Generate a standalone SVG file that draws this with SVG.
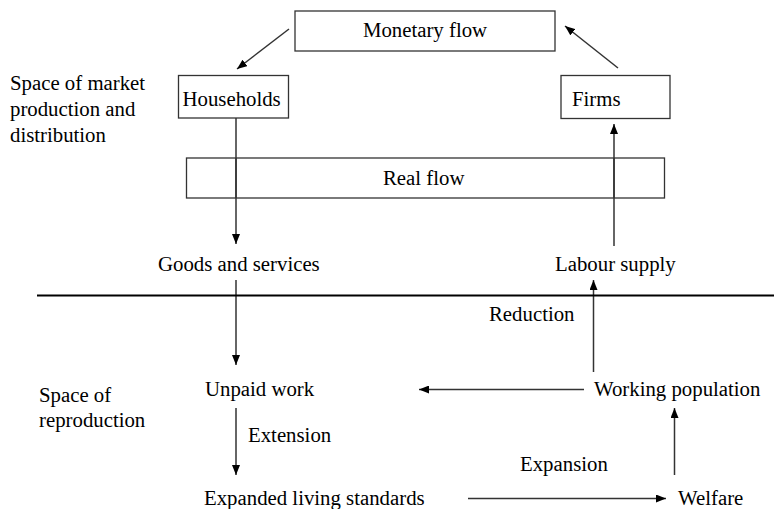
<svg xmlns="http://www.w3.org/2000/svg" width="774" height="509" viewBox="0 0 774 509">
<style>
text{font-family:'Liberation Serif','DejaVu Serif','Times New Roman',serif;font-size:20.8px;fill:#000}
.box{fill:#fff;stroke:#333;stroke-width:1.3}
.c{stroke:#333;stroke-width:1.5;fill:none}
</style>
<defs>
<marker id="ah" viewBox="0 0 10 8" refX="10" refY="4" markerWidth="10" markerHeight="8" markerUnits="userSpaceOnUse" orient="auto">
<path d="M0,0 L10,4 L0,8 Z" fill="#000"/>
</marker>
</defs>
<g id="labels">
<text x="10" y="90">Space of market</text>
<text x="10" y="116">production and</text>
<text x="10" y="142">distribution</text>
<text x="39" y="402">Space of</text>
<text x="39" y="427">reproduction</text>
</g>
<g id="connectors">
<line class="c" x1="236" y1="118" x2="236" y2="244" marker-end="url(#ah)"/>
<line class="c" x1="614" y1="246" x2="614" y2="124" marker-end="url(#ah)"/>
<line class="c" x1="289" y1="29" x2="237" y2="69" marker-end="url(#ah)"/>
<line class="c" x1="618" y1="68" x2="565" y2="26" marker-end="url(#ah)"/>
<line class="c" x1="236" y1="280" x2="236" y2="365" marker-end="url(#ah)"/>
<line class="c" x1="593.5" y1="372" x2="593.5" y2="280" marker-end="url(#ah)"/>
<line class="c" x1="584" y1="389.5" x2="419" y2="389.5" marker-end="url(#ah)"/>
<line class="c" x1="236" y1="408" x2="236" y2="475" marker-end="url(#ah)"/>
<line class="c" x1="468" y1="498.5" x2="666" y2="498.5" marker-end="url(#ah)"/>
<line class="c" x1="674.5" y1="475" x2="674.5" y2="408" marker-end="url(#ah)"/>
<line x1="37" y1="295.5" x2="774" y2="295.5" stroke="#000" stroke-width="2"/>
<text x="489" y="321">Reduction</text>
<text x="248" y="442">Extension</text>
<text x="520" y="471">Expansion</text>
</g>
<g id="monetary">
<rect class="box" x="295" y="11" width="260" height="40"/>
<text x="425" y="37" text-anchor="middle">Monetary flow</text>
</g>
<g id="households">
<rect class="box" x="178.5" y="75.5" width="110" height="42.5"/>
<text x="182.5" y="105.5">Households</text>
</g>
<g id="firms">
<rect class="box" x="561" y="75.5" width="109" height="43"/>
<text x="572" y="105.5">Firms</text>
</g>
<g id="realflow">
<rect class="box" x="186.5" y="158" width="478" height="40" fill-opacity="0"/>
<line class="c" x1="236" y1="158" x2="236" y2="198"/>
<line class="c" x1="614" y1="158" x2="614" y2="198"/>
<text x="383" y="184.5">Real flow</text>
</g>
<g id="goods"><text x="158" y="271">Goods and services</text></g>
<g id="labour"><text x="555" y="271">Labour supply</text></g>
<g id="unpaid"><text x="205" y="396">Unpaid work</text></g>
<g id="working"><text x="594" y="396">Working population</text></g>
<g id="expanded"><text x="204" y="505">Expanded living standards</text></g>
<g id="welfare"><text x="678" y="505">Welfare</text></g>
</svg>
